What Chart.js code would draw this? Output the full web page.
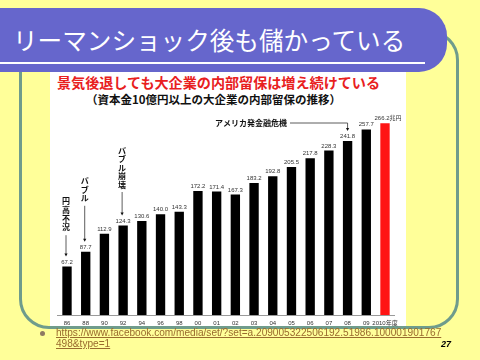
<!DOCTYPE html>
<html><head><meta charset="utf-8">
<script src="https://cdn.jsdelivr.net/npm/chart.js@4.4.1/dist/chart.umd.min.js"></script>
<style>
html,body{margin:0;padding:0;width:480px;height:360px;overflow:hidden;background:#FFFF99;}
body{position:relative;font-family:"Noto Sans CJK JP",sans-serif;}
#panel{position:absolute;left:50px;top:70px;width:356px;height:257px;background:#fff;}
#frame{position:absolute;left:19px;top:30px;width:440px;height:299px;box-sizing:border-box;border:3px solid #6F9C8C;border-radius:30px;}
#banner{position:absolute;left:-40px;top:8px;width:487px;height:64px;background:#6666CC;border-radius:0 28px 28px 0;}
#rule{position:absolute;left:0;top:62px;width:425px;height:2px;background:#fff;}
#title{position:absolute;left:13px;top:27px;font-size:24.6px;line-height:24px;color:#fff;white-space:nowrap;}
#t1{position:absolute;left:57px;top:75px;font-size:14.1px;line-height:14px;font-weight:bold;color:#E8201E;white-space:nowrap;}
#t2{position:absolute;left:86px;top:93px;font-size:11.5px;line-height:12px;font-weight:bold;color:#111;white-space:nowrap;}
#chart{position:absolute;left:50px;top:105px;}
#dot{position:absolute;left:40px;top:331px;width:5px;height:5px;border-radius:50%;background:#8E7A62;}
#link{position:absolute;left:56px;top:327px;font-family:"Liberation Sans",Arial,sans-serif;font-size:10.1px;line-height:11px;color:#9A6B2E;text-decoration:underline;white-space:nowrap;}
#page{position:absolute;left:441px;top:339px;font-family:"Liberation Sans",Arial,sans-serif;font-size:9px;line-height:10px;font-weight:bold;font-style:italic;color:#000;}
</style></head>
<body>
<div id="panel"></div>
<div id="frame"></div>
<div id="banner"></div>
<div id="rule"></div>
<div id="title">リーマンショック後も儲かっている</div>
<div id="t1">景気後退しても大企業の内部留保は増え続けている</div>
<div id="t2">（資本金10億円以上の大企業の内部留保の推移）</div>
<canvas id="chart" width="355" height="225"></canvas>
<div id="dot"></div>
<div id="link">https://www.facebook.com/media/set/?set=a.209005322506192.51986.100001901767<br>498&amp;type=1</div>
<div id="page">27</div>
<script>
const years = ['86','88','90','92','94','96','98','00','01','02','03','04','05','06','07','08','09','2010年度'];
const retained = [67.2,87.7,112.9,124.3,130.6,140.0,143.3,172.2,171.4,167.3,183.2,192.8,205.5,217.8,228.3,241.8,257.7,266.2];
const unitLabel = '兆円';
const barColors = years.map((y,i)=> i===years.length-1 ? '#FF1414' : '#000000');
const verticalNotes = ['円高不況','バブル','バブル崩壊'];
const verticalNoteYears = ['86','88','92'];
const crisisNote = 'アメリカ発金融危機';
const crisisYear = '08';

const OX=50, OY=105; // canvas page offset
function arrow(ctx,x,y1,y2){
  ctx.beginPath();ctx.moveTo(x,y1);ctx.lineTo(x,y2-2);ctx.stroke();
  ctx.beginPath();ctx.moveTo(x-1.6,y2-3);ctx.lineTo(x+1.6,y2-3);ctx.lineTo(x,y2);ctx.closePath();ctx.fill();
}
const notesPlugin = {
  id:'notes',
  afterDatasetsDraw(chart){
    const ctx=chart.ctx, meta=chart.getDatasetMeta(0);
    ctx.save();
    ctx.fillStyle='#333';ctx.textAlign='center';ctx.textBaseline='alphabetic';
    ctx.font='6px "Liberation Sans","Noto Sans CJK JP",sans-serif';
    meta.data.forEach((bar,i)=>{
      let t=retained[i].toFixed(1);
      if(i===retained.length-1){ctx.fillText(t+unitLabel,bar.x+3,bar.y-3);}
      else ctx.fillText(t,bar.x,bar.y-3);
    });
    // vertical notes
    const tops=[197,177,147];
    const steps=[8.8,8.6,8.4];
    ctx.fillStyle='#111';ctx.strokeStyle='#333';ctx.lineWidth=0.8;
    ctx.font='bold 8px "Noto Sans CJK JP",sans-serif';ctx.textBaseline='middle';
    verticalNotes.forEach((note,k)=>{
      const idx=years.indexOf(verticalNoteYears[k]);
      const bar=meta.data[idx];
      const x=bar.x-1;
      let y=tops[k]-OY+4;
      [...note].forEach(ch=>{ctx.fillText(ch,x,y);y+=steps[k];});
      arrow(ctx,x,y-1,bar.y-10);
    });
    // crisis note
    const ci=years.indexOf(crisisYear), cb=meta.data[ci];
    ctx.textAlign='left';ctx.textBaseline='middle';
    ctx.font='bold 8px "Noto Sans CJK JP",sans-serif';
    const tx=215-OX, ty=123-OY;
    ctx.fillText(crisisNote,tx,ty);
    const w=ctx.measureText(crisisNote).width;
    ctx.beginPath();ctx.moveTo(tx+w+3,ty);ctx.lineTo(cb.x,ty);ctx.stroke();
    arrow(ctx,cb.x,ty,cb.y-10);
    ctx.restore();
  }
};
new Chart(document.getElementById('chart'),{
  type:'bar',
  data:{labels:years,datasets:[{data:retained,backgroundColor:barColors,borderWidth:0,barPercentage:0.5,categoryPercentage:1}]},
  options:{
    responsive:false,animation:false,devicePixelRatio:1,
    layout:{padding:{left:7.65,right:10.65,top:8.4,bottom:0}},
    plugins:{legend:{display:false},tooltip:{enabled:false},title:{display:false}},
    scales:{
      x:{offset:true,grid:{display:false,drawTicks:false},border:{display:true,color:'#9a9a9a',width:1},
        ticks:{autoSkip:false,maxRotation:0,minRotation:0,padding:5,color:'#333',
          font:{family:'"Liberation Sans","Noto Sans CJK JP",sans-serif',size:6}},
        afterFit(s){s.height=15;}},
      y:{display:false,min:0,max:280}
    }
  },
  plugins:[notesPlugin]
});
</script>
</body></html>
